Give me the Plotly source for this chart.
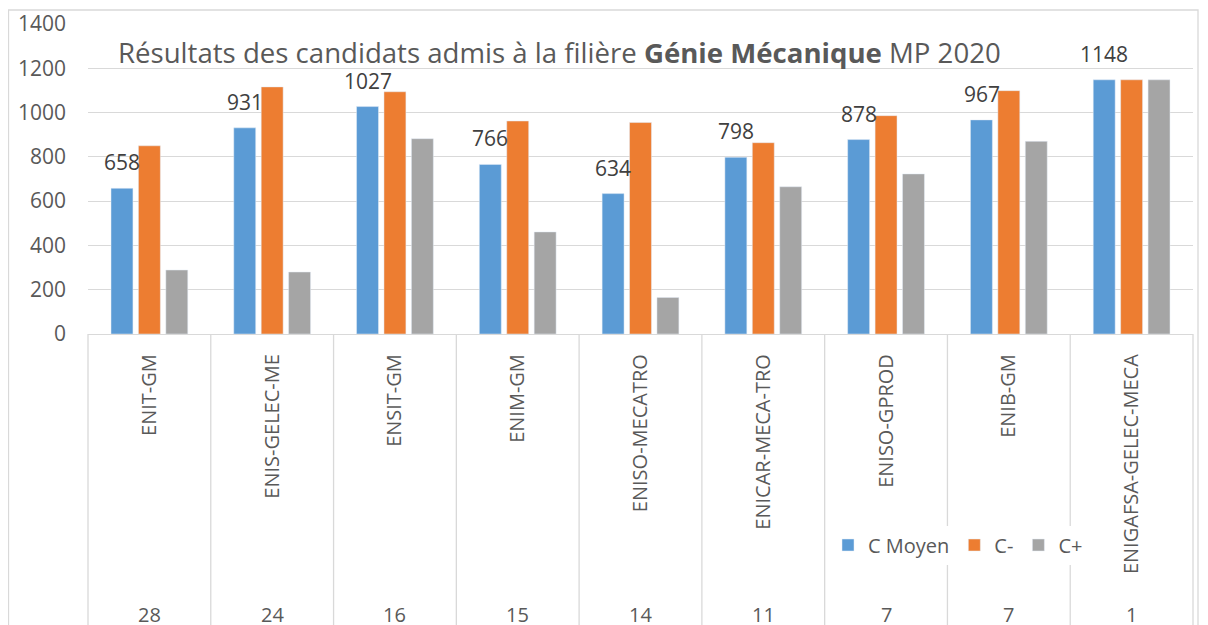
import plotly.graph_objects as go

categories = ["ENIT-GM", "ENIS-GELEC-ME", "ENSIT-GM", "ENIM-GM", "ENISO-MECATRO",
              "ENICAR-MECA-TRO", "ENISO-GPROD", "ENIB-GM", "ENIGAFSA-GELEC-MECA"]
counts = ["28", "24", "16", "15", "14", "11", "7", "7", "1"]
c_moyen = [658, 931, 1027, 766, 634, 798, 878, 967, 1148]
c_minus = [850, 1116, 1094, 962, 955, 864, 986, 1099, 1148]
c_plus = [289, 280, 882, 461, 165, 665, 723, 870, 1148]

FONT = "Open Sans, sans-serif"
TXT = "#595959"
GRID = "#D9D9D9"

fig = go.Figure()
fig.add_trace(go.Bar(name="C Moyen", x=categories, y=c_moyen, marker_color="#5B9BD5"))
fig.add_trace(go.Bar(name="C-", x=categories, y=c_minus, marker_color="#ED7D31"))
fig.add_trace(go.Bar(name="C+", x=categories, y=c_plus, marker_color="#A5A5A5"))

# page body has an 8px margin: figure drawn at (8, 8)
OFF = 8
W, H = 1208 - OFF, 625 - OFF
PL, PR, PT, PB = 88, 1193, 24, 334  # plot area in page pixels
L, R, T, B = PL - OFF, W - (PR - OFF), PT - OFF, H - (PB - OFF)
pw = PR - PL
ph = PB - PT

def px(xp):
    return (xp - PL) / pw

def py(yp):
    return (PB - yp) / ph

annotations = []
for cat, v in zip(categories, c_moyen):
    annotations.append(dict(x=cat, y=v, xref="x", yref="y", text=str(v), showarrow=False,
                            xshift=-27.3, yshift=26, yanchor="middle",
                            font=dict(family=FONT, size=21, color="#404040")))
n = len(categories)
for i, c in enumerate(counts):
    annotations.append(dict(x=(i + 0.5) / n, y=py(614.5), xref="paper", yref="paper", text=c,
                            showarrow=False, yanchor="middle", xanchor="center",
                            font=dict(family=FONT, size=20, color=TXT)))
annotations.append(dict(x=px(116), y=py(52), xref="paper", yref="paper",
                        text="Résultats des candidats admis à la filière <b>Génie Mécanique</b> MP 2020",
                        showarrow=False, xanchor="left", yanchor="middle",
                        font=dict(family=FONT, size=27.6, color=TXT)))

shapes = []
for i in range(n + 1):
    shapes.append(dict(type="line", xref="paper", yref="paper", x0=i / n, x1=i / n,
                       y0=0, y1=-1.05, line=dict(color=GRID, width=1.3)))
shapes.append(dict(type="rect", xref="paper", yref="paper", x0=px(8.5), x1=px(1198),
                   y0=-1.1, y1=py(10), line=dict(color=GRID, width=1.3), layer="below"))

fig.update_layout(
    width=W, height=H,
    margin=dict(l=L, r=R, t=T, b=B, autoexpand=False),
    paper_bgcolor="white", plot_bgcolor="white",
    barmode="group", bargap=0.33, bargroupgap=0.2,
    font=dict(family=FONT, size=19, color=TXT),
    showlegend=True,
    legend=dict(orientation="h", x=px(828), y=py(545), xanchor="left", yanchor="middle",
                bgcolor="rgba(255,255,255,1)", font=dict(family=FONT, size=20, color=TXT),
                itemwidth=30, tracegroupgap=0),
    annotations=annotations,
    shapes=shapes,
)
fig.update_xaxes(type="category", tickangle=-90, showgrid=False, showline=True,
                 linecolor=GRID, linewidth=1.3, ticks="", ticklabelstandoff=11,
                 tickfont=dict(family=FONT, size=20, color=TXT))
fig.update_yaxes(range=[0, 1400], dtick=200, showgrid=True, gridcolor=GRID, gridwidth=1.3,
                 zeroline=True, zerolinecolor=GRID, zerolinewidth=1.3, showline=False,
                 ticks="", ticklabelstandoff=21, tickfont=dict(family=FONT, size=21, color=TXT))

fig.write_html("out.html")
